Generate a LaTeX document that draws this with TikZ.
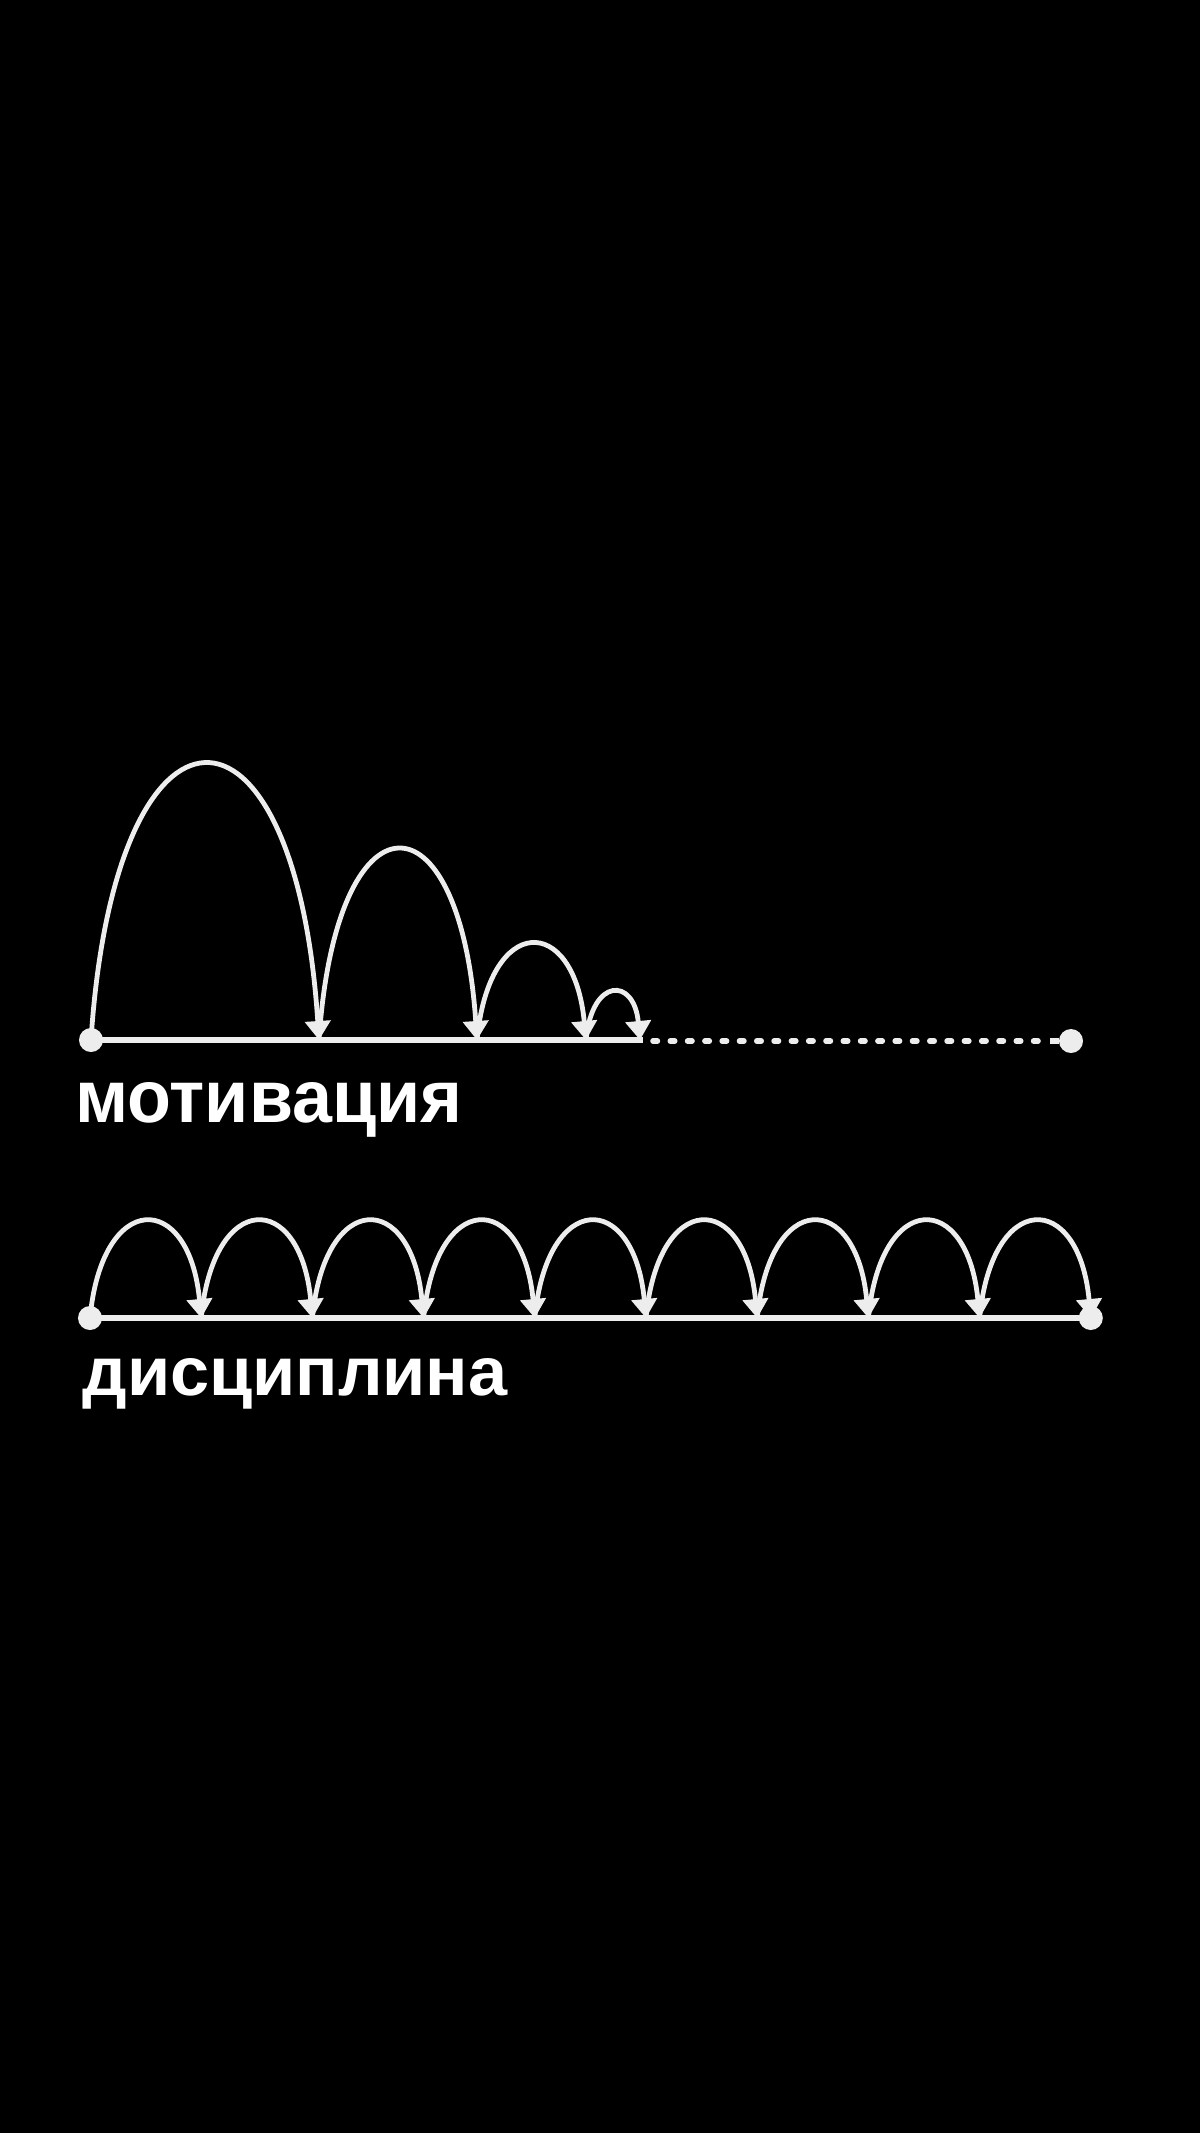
\documentclass[tikz,border=0pt]{standalone}
\usepackage{fontspec}
\setmainfont{Liberation Sans}
\usetikzlibrary{arrows.meta,calc}
\definecolor{ink}{gray}{0.93}
\tikzset{
  hoparc/.style={draw=ink, line width=2.4pt, -{Triangle[width=12.5pt,length=9.5pt]}},
  baseline/.style={draw=ink, line width=2.6pt},
  dotline/.style={draw=ink, line width=2.8pt, line cap=round, dash pattern=on 2.2pt off 6.45pt},
  enddot/.style={circle, fill=ink, minimum size=12pt, inner sep=0pt},
  lbl/.style={text=white, inner sep=0pt, anchor=base west, font=\bfseries}
}
\newcommand\hopcurve[4]{\draw[hoparc] (#1) .. controls ($(#1)+(#3,-#4)$) and ($(#2)+(-#3,-#4)$) .. (#2);}
\begin{document}
\begin{tikzpicture}[x=0.5pt,y=-0.5pt]
\fill[black] (0,0) rectangle (1200,2133);
\useasboundingbox (0,0) rectangle (1200,2133);
% ---------- motivation ----------
\coordinate (m0) at (91,1040);
\coordinate (m1) at (319,1040);
\coordinate (m2) at (477,1040);
\coordinate (m3) at (586,1040);
\coordinate (m4) at (640,1040);
\coordinate (mL) at (643,1040);
\coordinate (d0) at (653,1041);
\coordinate (d1) at (1040,1041);
\coordinate (d2) at (1050,1041);
\hopcurve{m0}{m1}{24}{367}
\hopcurve{m1}{m2}{17}{253}
\hopcurve{m2}{m3}{12}{127}
\hopcurve{m3}{m4}{6}{63}
\draw[baseline] (m0) -- (mL);
\draw[dotline] (d0) -- (d1);
\node[enddot] (mstart) at (m0) {};
\node[enddot] (mend) at (1071,1041) {};
\draw[baseline] (d2) -- (mend);
\node[lbl] (mtext) at (75,1122) {\resizebox{193.5pt}{20pt}{мотивация}};
% ---------- discipline ----------
\foreach \i in {0,...,9} {
  \coordinate (p\i) at ({90+\i*111.2},1318);
}
\foreach \i [evaluate=\i as \j using int(\i+1)] in {0,...,8} {
  \hopcurve{p\i}{p\j}{12}{128}
}
\draw[baseline] (p0) -- (p9);
\node[enddot] (dstart) at (p0) {};
\node[enddot] (dend) at (p9) {};
\node[lbl] (dtext) at (82,1395) {\resizebox{212.5pt}{18.5pt}{дисциплина}};
\end{tikzpicture}
\end{document}
